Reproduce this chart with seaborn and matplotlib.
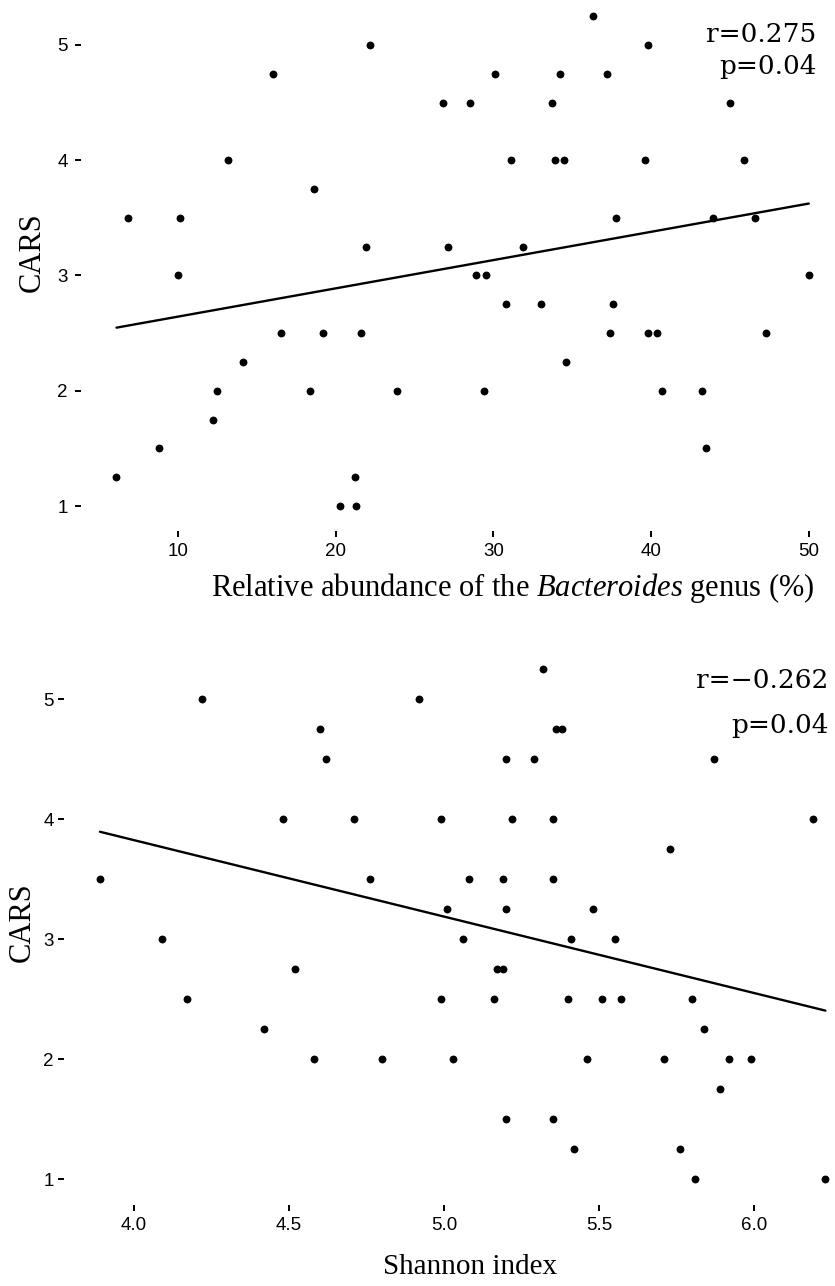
import matplotlib
matplotlib.use("Agg")
import matplotlib.pyplot as plt
import seaborn as sns
import numpy as np
import pandas as pd

# ---- data ----
bact_pct = [6.1, 6.8, 10.1, 10.0, 8.8, 12.2, 12.5, 13.2, 14.1, 16.0, 16.5, 18.4, 18.6, 19.2,
            20.3, 21.2, 21.3, 21.6, 21.9, 22.2, 23.9,
            36.3, 39.8, 30.1, 34.2, 37.2, 26.8, 28.5, 33.7, 45.0, 31.1, 33.9, 34.5, 39.6, 45.9,
            37.8, 43.9, 46.6, 27.1, 31.9, 28.9, 29.5, 50.0, 30.8, 33.0, 37.6, 37.4, 39.8, 40.4,
            47.3, 34.6, 29.4, 40.7, 43.2, 43.5]
bact_cars = [1.25, 3.5, 3.5, 3.0, 1.5, 1.75, 2.0, 4.0, 2.25, 4.75, 2.5, 2.0, 3.75, 2.5,
             1.0, 1.25, 1.0, 2.5, 3.25, 5.0, 2.0,
             5.25, 5.0, 4.75, 4.75, 4.75, 4.5, 4.5, 4.5, 4.5, 4.0, 4.0, 4.0, 4.0, 4.0,
             3.5, 3.5, 3.5, 3.25, 3.25, 3.0, 3.0, 3.0, 2.75, 2.75, 2.75, 2.5, 2.5, 2.5,
             2.5, 2.25, 2.0, 2.0, 2.0, 1.5]

shannon = [3.89, 4.22, 4.60, 4.62, 4.48, 4.71, 4.76, 4.09, 4.52, 4.17, 4.42, 4.58, 4.80,
           4.92, 5.32, 5.36, 5.38, 5.20, 5.29, 5.87, 4.99, 5.22, 5.35, 6.19, 5.73, 5.08, 5.19,
           5.35, 5.01, 5.20, 5.48, 5.06, 5.41, 5.55, 5.17, 5.19, 4.99, 5.16, 5.40, 5.51, 5.57,
           5.80, 5.84, 5.03, 5.46, 5.71, 5.92, 5.99, 5.89, 5.20, 5.35, 5.42, 5.76, 5.81, 6.23]
shannon_cars = [3.5, 5.0, 4.75, 4.5, 4.0, 4.0, 3.5, 3.0, 2.75, 2.5, 2.25, 2.0, 2.0,
                5.0, 5.25, 4.75, 4.75, 4.5, 4.5, 4.5, 4.0, 4.0, 4.0, 4.0, 3.75, 3.5, 3.5,
                3.5, 3.25, 3.25, 3.25, 3.0, 3.0, 3.0, 2.75, 2.75, 2.5, 2.5, 2.5, 2.5, 2.5,
                2.5, 2.25, 2.0, 2.0, 2.0, 2.0, 2.0, 1.75, 1.5, 1.5, 1.25, 1.25, 1.0, 1.0]

top_xticks = [10, 20, 30, 40, 50]
bot_xticks = [4.0, 4.5, 5.0, 5.5, 6.0]
bot_xticklabels = ["4.0", "4.5", "5.0", "5.5", "6.0"]
yticks = [1, 2, 3, 4, 5]
top_stats = ["r=0.275", "p=0.04"]
bot_stats = ["r=\u22120.262", "p=0.04"]

# ---- style ----
sns.set_style("white")
plt.rcParams["font.family"] = ["Liberation Sans Narrow", "Liberation Sans", "DejaVu Sans"]
plt.rcParams["text.color"] = "black"
plt.rcParams["axes.labelcolor"] = "black"
plt.rcParams["mathtext.fontset"] = "custom"
plt.rcParams["mathtext.rm"] = "Liberation Serif"
plt.rcParams["mathtext.it"] = "Liberation Serif:italic"

W, H = 835, 1286
fig = plt.figure(figsize=(W / 100, H / 100), dpi=100)
fig.patch.set_facecolor("white")

ax1 = fig.add_axes([81 / W, 1 - 530.5 / H, (W - 81) / W, 530.5 / H])
ax2 = fig.add_axes([64 / W, 1 - 1204.5 / H, (W - 64) / W, (1204.5 - 643.5) / H])

df1 = pd.DataFrame({"x": bact_pct, "y": bact_cars})
df2 = pd.DataFrame({"x": shannon, "y": shannon_cars})

for ax, df in ((ax1, df1), (ax2, df2)):
    sns.regplot(data=df, x="x", y="y", ax=ax, ci=None,
                scatter_kws=dict(s=32, color="black", linewidths=0, alpha=1),
                line_kws=dict(color="black", lw=1.7))
    for s in ax.spines.values():
        s.set_visible(False)
    ax.set_facecolor("white")
    ax.grid(False)
    ax.set_yticks(yticks)
    ax.set_yticklabels([str(v) for v in yticks])

ax1.set_xlim(3.85, 51.66)
ax1.set_ylim(0.7875, 5.39)
ax1.set_xticks(top_xticks)
ax1.set_xticklabels([str(v) for v in top_xticks])

ax2.set_xlim(3.774, 6.261)
ax2.set_ylim(0.7875, 5.4625)
ax2.set_xticks(bot_xticks)
ax2.set_xticklabels(bot_xticklabels)

ax1.tick_params(axis="y", left=True, length=4, width=1.4, color="black", pad=5.5,
                labelsize=13.5, labelcolor="black")
ax2.tick_params(axis="y", left=True, length=4, width=1.4, color="black", pad=3.5,
                labelsize=13.5, labelcolor="black")
for ax in (ax1, ax2):
    ax.tick_params(axis="x", bottom=True, length=4, width=1.4, color="black", pad=5,
                   labelsize=13.5, labelcolor="black")

serif = ["Liberation Serif", "DejaVu Serif"]
ax1.set_xlabel("Relative abundance of the $\\it{Bacteroides}$ genus (%)", family=serif,
               fontsize=22, color="black")
ax1.xaxis.set_label_coords((513 - 81) / (W - 81), (530.5 - 588) / 530.5)
ax1.xaxis.label.set_va("center")
ax1.set_ylabel("CARS", family=serif, fontsize=22, color="black")
ax1.yaxis.set_label_coords((32.5 - 81) / (W - 81), (530.5 - 252) / 530.5)
ax1.yaxis.label.set_va("center")

ax2.set_xlabel("Shannon index", family=serif, fontsize=21, color="black")
ax2.xaxis.set_label_coords((470 - 64) / (W - 64), (1204.5 - 1267) / 561)
ax2.xaxis.label.set_va("center")
ax2.set_ylabel("CARS", family=serif, fontsize=22, color="black")
ax2.yaxis.set_label_coords((22.5 - 64) / (W - 64), (1204.5 - 922) / 561)
ax2.yaxis.label.set_va("center")

stat_font = ["DejaVu Serif"]
ax1.text(50.5, 5.09, top_stats[0], ha="right", va="center", family=stat_font, fontsize=19, color="black")
ax1.text(50.5, 4.815, top_stats[1], ha="right", va="center", family=stat_font, fontsize=19, color="black")
ax2.text(6.24, 5.155, bot_stats[0], ha="right", va="center", family=stat_font, fontsize=19, color="black")
ax2.text(6.24, 4.78, bot_stats[1], ha="right", va="center", family=stat_font, fontsize=19, color="black")

fig.savefig("out.png", dpi=100, facecolor="white")
